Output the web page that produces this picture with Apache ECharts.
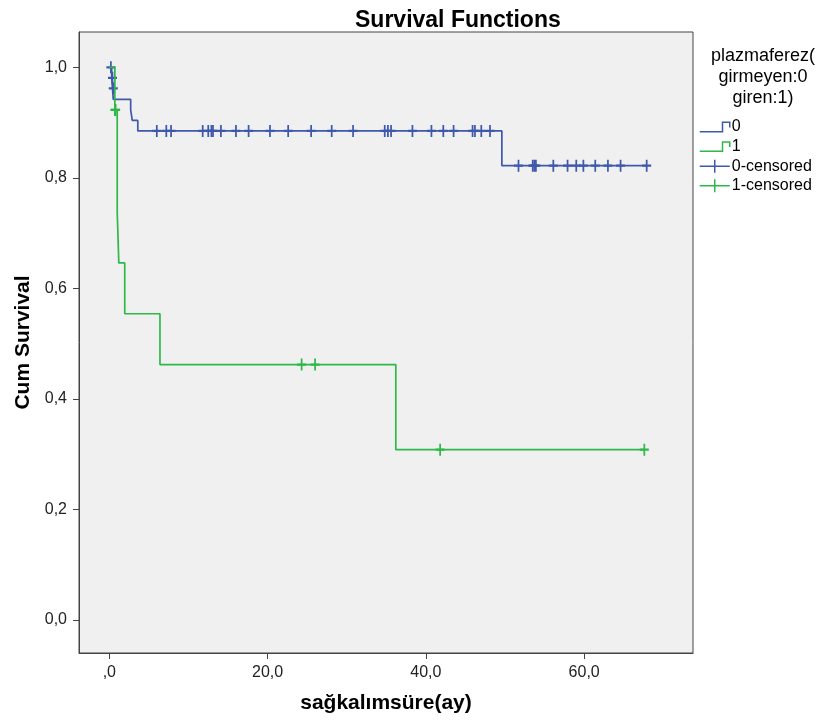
<!DOCTYPE html>
<html>
<head>
<meta charset="UTF-8">
<title>Survival Functions</title>
<style type="text/css">
    html,body{padding:0; margin:0; background:#fff;}
    #main{width:817px; height:724px;}
</style>
<script src="https://cdn.jsdelivr.net/npm/echarts@6/dist/echarts.min.js"></script>
</head>
<body>
<div id="main"></div>
<script type="text/javascript">
    // Kaplan-Meier steps, group 0 (girmeyen) - time in months, cumulative survival
    var timeG0 = [0, 0.3, 0.4, 0.5, 2.7, 2.9, 3.6, 49.6, 67.9];
    var survG0 = [1, 0.981, 0.962, 0.942, 0.923, 0.904, 0.885, 0.822, 0.822];
    // group 1 (giren)
    var timeG1 = [0, 0.7, 1.0, 1.0, 1.2, 1.95, 6.4, 36.2, 67.6];
    var survG1 = [1, 0.923, 0.831, 0.738, 0.646, 0.554, 0.462, 0.308, 0.308];

    // censored cases
    var censTimeG0 = [0.2, 0.4, 0.5,
        6.0, 7.2, 7.8, 11.8, 12.5, 12.9, 13.1, 14.1, 16.0, 17.6, 20.3, 22.6, 25.5, 28.1, 30.8,
        34.8, 35.2, 35.6, 38.3, 40.7, 42.2, 43.5, 45.9, 46.2, 47.0, 48.1,
        51.7, 53.5, 53.7, 53.9, 56.1, 57.9, 59.0, 59.9, 61.4, 63.0, 64.6, 67.9];
    var censSurvG0 = [1, 0.981, 0.962,
        0.885, 0.885, 0.885, 0.885, 0.885, 0.885, 0.885, 0.885, 0.885, 0.885, 0.885, 0.885, 0.885, 0.885, 0.885,
        0.885, 0.885, 0.885, 0.885, 0.885, 0.885, 0.885, 0.885, 0.885, 0.885, 0.885,
        0.822, 0.822, 0.822, 0.822, 0.822, 0.822, 0.822, 0.822, 0.822, 0.822, 0.822, 0.822];
    var censTimeG1 = [0.7, 0.8, 24.3, 26.0, 41.8, 67.6];
    var censSurvG1 = [0.923, 0.923, 0.462, 0.462, 0.308, 0.308];

    var xTicks = [0, 20, 40, 60];
    var yTicks = [0, 0.2, 0.4, 0.6, 0.8, 1.0];

    var legendNames = ['0', '1', '0-censored', '1-censored'];

    var blue = '#3e58ac';
    var green = '#2eb848';

    function zip(a, b) {
        var out = [];
        for (var i = 0; i < a.length; i++) out.push([a[i], b[i]]);
        return out;
    }
    function comma(v, isY) {
        if (v === 0) return isY ? '0,0' : ',0';
        return v.toFixed(1).replace('.', ',');
    }

    var plus = 'path://M5,0V10M0,5H10';
    var stepIcon = 'path://M0,12H22V3H29V8';
    var censIcon = 'path://M0,6.5H30M15,0V13';

    var myChart = echarts.init(document.getElementById('main'));
    var option = {
        animation: false,
        title: [
            {
                text: 'Survival Functions',
                left: 350, top: 4,
                textStyle: {fontFamily: 'Liberation Sans', fontWeight: 'bold', fontSize: 23, color: '#000'}
            },
            {
                text: 'plazmaferez(\ngirmeyen:0\ngiren:1)',
                left: 758, top: 41, textAlign: 'center',
                textStyle: {fontFamily: 'Liberation Sans', fontWeight: 'normal', fontSize: 18, lineHeight: 21, color: '#000'}
            }
        ],
        legend: {
            orient: 'vertical',
            left: 694, top: 114,
            itemWidth: 30, itemHeight: 13, itemGap: 3.6,
            textStyle: {fontFamily: 'Liberation Sans', fontSize: 16, lineHeight: 13, color: '#000', padding: [0, 0, 0, -3]},
            data: [
                {name: legendNames[0], icon: stepIcon, itemStyle: {color: 'transparent', borderColor: blue, borderWidth: 1.5}},
                {name: legendNames[1], icon: stepIcon, itemStyle: {color: 'transparent', borderColor: green, borderWidth: 1.5}},
                {name: legendNames[2], icon: censIcon, itemStyle: {color: 'transparent', borderColor: blue, borderWidth: 1.5}},
                {name: legendNames[3], icon: censIcon, itemStyle: {color: 'transparent', borderColor: green, borderWidth: 1.5}}
            ]
        },
        grid: {
            left: 79, right: 124, top: 32, bottom: 71,
            show: true, backgroundColor: '#f0f0f0', borderColor: '#444', borderWidth: 1
        },
        xAxis: {
            type: 'value',
            min: -3.83, max: 73.75,
            name: 'sağkalımsüre(ay)',
            nameLocation: 'middle', nameGap: 40,
            nameTextStyle: {fontFamily: 'Liberation Sans', fontWeight: 'bold', fontSize: 21, color: '#000'},
            axisLine: {show: true, onZero: false, lineStyle: {color: '#444'}},
            axisTick: {show: true, length: 6, customValues: xTicks, lineStyle: {color: '#444'}},
            axisLabel: {
                customValues: xTicks, margin: 12, color: '#222',
                fontFamily: 'Liberation Sans', fontSize: 16,
                formatter: function (v) { return comma(v, false); }
            },
            splitLine: {show: false}
        },
        yAxis: {
            type: 'value',
            min: -0.06, max: 1.064,
            name: 'Cum Survival',
            nameLocation: 'middle', nameGap: 42, nameRotate: 90,
            nameTextStyle: {fontFamily: 'Liberation Sans', fontWeight: 'bold', fontSize: 21, color: '#000'},
            axisLine: {show: true, onZero: false, lineStyle: {color: '#444'}},
            axisTick: {show: true, length: 6, customValues: yTicks, lineStyle: {color: '#444'}},
            axisLabel: {
                customValues: yTicks, margin: 12, color: '#222',
                fontFamily: 'Liberation Sans', fontSize: 16,
                formatter: function (v) { return comma(v, true); }
            },
            splitLine: {show: false}
        },
        series: [
            {
                name: legendNames[0], type: 'line', step: 'end', showSymbol: false,
                data: zip(timeG0, survG0),
                itemStyle: {color: blue},
                lineStyle: {color: blue, width: 1.7}
            },
            {
                name: legendNames[1], type: 'line', step: 'end', showSymbol: false,
                data: zip(timeG1, survG1),
                itemStyle: {color: green},
                lineStyle: {color: green, width: 1.7}
            },
            {
                name: legendNames[2], type: 'scatter',
                symbol: plus, symbolSize: [9, 12],
                data: zip(censTimeG0, censSurvG0),
                itemStyle: {color: 'transparent', borderColor: blue, borderWidth: 2, opacity: 1}
            },
            {
                name: legendNames[3], type: 'scatter',
                symbol: plus, symbolSize: [9, 12],
                data: zip(censTimeG1, censSurvG1),
                itemStyle: {color: 'transparent', borderColor: green, borderWidth: 2, opacity: 1}
            }
        ]
    };
    myChart.setOption(option);
</script>
</body>
</html>
